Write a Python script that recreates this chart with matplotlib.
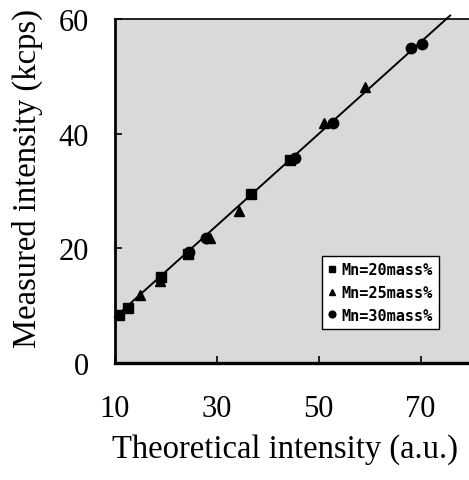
import numpy as np
import matplotlib
matplotlib.use('Agg')
import matplotlib.pyplot as plt

# data
mn20_x = [10.9, 12.6, 19.0, 24.4, 36.8, 44.3]
mn20_y = [8.4, 9.7, 15.0, 19.1, 29.5, 35.5]

mn25_x = [15.0, 18.8, 28.6, 34.4, 51.0, 59.0]
mn25_y = [11.9, 14.4, 21.8, 26.6, 41.9, 48.1]

mn30_x = [24.6, 27.8, 45.3, 52.8, 68.2, 70.3]
mn30_y = [19.3, 21.9, 35.7, 41.9, 54.9, 55.7]

fit_slope = 0.8
fit_x = [10, 75.8]

x_ticks = [10, 30, 50, 70]
y_ticks = [0, 20, 40, 60]

plt.rcParams['font.family'] = ['Liberation Serif', 'DejaVu Serif']

fig = plt.figure(figsize=(4.69, 4.81), dpi=100)
ax = fig.add_axes([0.245, 0.243, 0.755, 0.715])
ax.set_facecolor('#d9d9d9')

fx = np.array(fit_x)
ax.plot(fx, fit_slope * fx, color='black', lw=1.4, clip_on=False, zorder=2)

ax.plot(mn20_x, mn20_y, 's', color='black', ms=7.5, label='Mn=20mass%', zorder=3)
ax.plot(mn25_x, mn25_y, '^', color='black', ms=7.5, label='Mn=25mass%', zorder=3)
ax.plot(mn30_x, mn30_y, 'o', color='black', ms=7.5, label='Mn=30mass%', zorder=3)

ax.set_xlim(10, 79.5)
ax.set_ylim(0, 60)
ax.set_xticks(x_ticks)
ax.set_yticks(y_ticks)
ax.tick_params(direction='in', length=5, width=1.2, labelsize=22)
ax.tick_params(axis='x', pad=22)
ax.tick_params(axis='y', pad=19)

ax.spines['right'].set_visible(False)
ax.spines['left'].set_linewidth(2)
ax.spines['bottom'].set_linewidth(2.4)
ax.spines['top'].set_linewidth(1.2)

ax.set_xlabel('Theoretical intensity (a.u.)', fontsize=23.5)
ax.set_ylabel('Measured intensity (kcps)', fontsize=23.5)
ax.xaxis.set_label_coords(0.48, -0.203)
ax.yaxis.set_label_coords(-0.203, 0.54)

leg = ax.legend(loc='lower right', bbox_to_anchor=(0.915, 0.1), frameon=True, fancybox=False,
                handlelength=0.5, handletextpad=0.4, markerscale=0.65, borderpad=0.4,
                labelspacing=0.5, borderaxespad=0,
                prop={'family': 'DejaVu Sans Mono', 'weight': 'bold', 'size': 11})
leg.get_frame().set_edgecolor('black')
leg.get_frame().set_facecolor('white')
leg.get_frame().set_alpha(1)
leg.get_frame().set_linewidth(1)

fig.savefig('out.png', dpi=100)
